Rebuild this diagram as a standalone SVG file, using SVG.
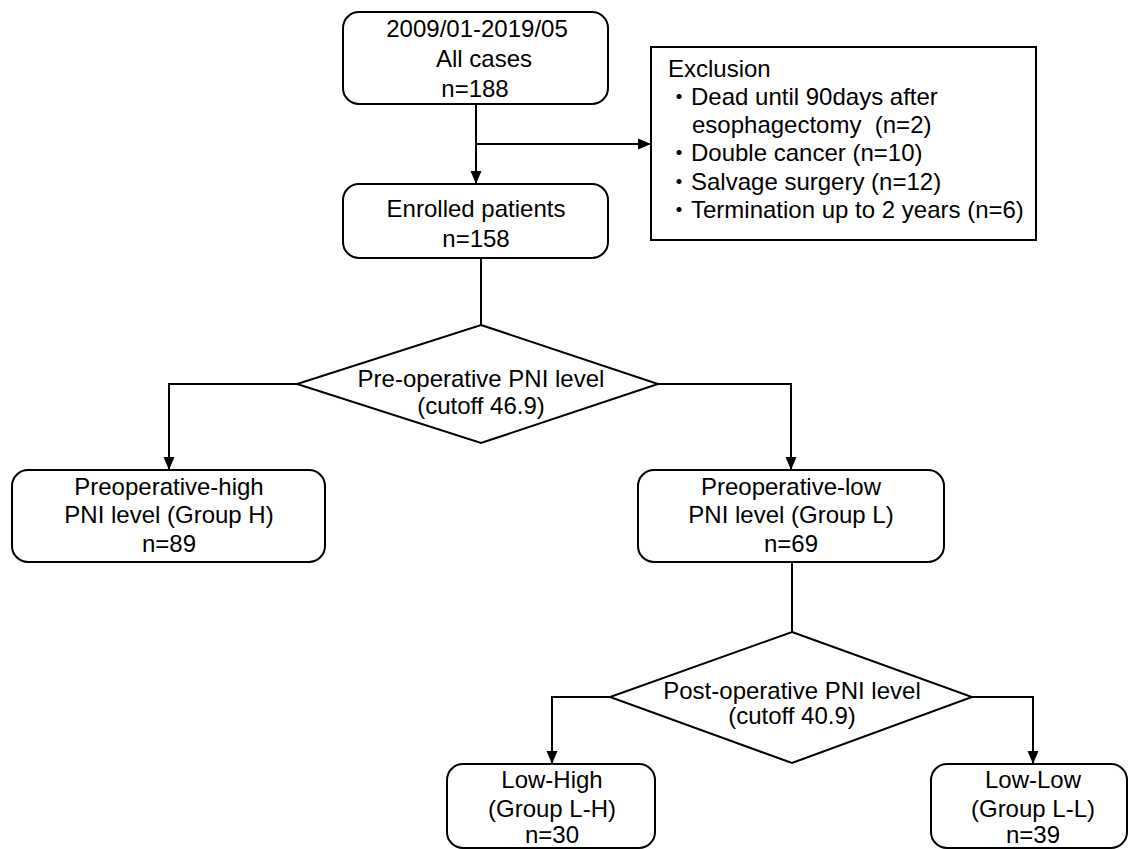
<svg xmlns="http://www.w3.org/2000/svg" width="1131" height="849" viewBox="0 0 1131 849">
<defs>
<marker id="arr" markerUnits="userSpaceOnUse" markerWidth="13" markerHeight="13" refX="13" refY="6.5" orient="auto">
<path d="M0,1 L13,6.5 L0,12 Z" fill="#000"/>
</marker>
<style>
.box{fill:#fff;stroke:#000;stroke-width:2}
.t{font-family:"Liberation Sans","Noto Sans CJK JP",Arial,sans-serif;font-size:24px;fill:#000}
.c{text-anchor:middle}
.ln{fill:none;stroke:#000;stroke-width:2}
</style>
</defs>
<rect width="1131" height="849" fill="#fff"/>
<g id="connectors">
<path class="ln" d="M476,104 V184" marker-end="url(#arr)"/>
<path class="ln" d="M476,144 H651" marker-end="url(#arr)"/>
<path class="ln" d="M481,258 V325"/>
<path class="ln" d="M297,384 H169 V470" marker-end="url(#arr)"/>
<path class="ln" d="M658,384 H791 V470" marker-end="url(#arr)"/>
<path class="ln" d="M792,562 V632"/>
<path class="ln" d="M610,697 H552 V764" marker-end="url(#arr)"/>
<path class="ln" d="M972,697 H1033 V764" marker-end="url(#arr)"/>
</g>
<g id="all-cases">
<rect class="box" x="343" y="12" width="265" height="92" rx="16"/>
<text class="t c" x="477" y="37">2009/01-2019/05</text>
<text class="t c" x="484" y="67">All cases</text>
<text class="t c" x="475" y="97">n=188</text>
</g>
<g id="exclusion">
<rect class="box" x="651" y="47" width="385" height="193"/>
<text class="t" x="668" y="77">Exclusion</text>
<text class="t" x="667" y="105">・Dead until 90days after</text>
<text class="t" x="692" y="133" xml:space="preserve">esophagectomy  (n=2)</text>
<text class="t" x="667" y="161">・Double cancer (n=10)</text>
<text class="t" x="667" y="190">・Salvage surgery (n=12)</text>
<text class="t" x="667" y="218">・Termination up to 2 years (n=6)</text>
</g>
<g id="enrolled">
<rect class="box" x="343" y="184" width="265" height="74" rx="16"/>
<text class="t c" x="476" y="217">Enrolled patients</text>
<text class="t c" x="476" y="247">n=158</text>
</g>
<g id="pre-diamond">
<polygon class="box" points="481,325 658,384 481,443 297,384"/>
<text class="t c" x="481" y="387">Pre-operative PNI level</text>
<text class="t c" x="481" y="414">(cutoff 46.9)</text>
</g>
<g id="group-h">
<rect class="box" x="12" y="470" width="313" height="92" rx="16"/>
<text class="t c" x="169" y="495">Preoperative-high</text>
<text class="t c" x="169" y="523">PNI level (Group H)</text>
<text class="t c" x="169" y="552">n=89</text>
</g>
<g id="group-l">
<rect class="box" x="638" y="470" width="306" height="92" rx="16"/>
<text class="t c" x="791" y="495">Preoperative-low</text>
<text class="t c" x="791" y="523">PNI level (Group L)</text>
<text class="t c" x="791" y="552">n=69</text>
</g>
<g id="post-diamond">
<polygon class="box" points="792,632 972,697 792,763 610,697"/>
<text class="t c" x="792" y="699">Post-operative PNI level</text>
<text class="t c" x="792" y="724">(cutoff 40.9)</text>
</g>
<g id="group-lh">
<rect class="box" x="447" y="764" width="208" height="84" rx="16"/>
<text class="t c" x="552" y="788">Low-High</text>
<text class="t c" x="552" y="817">(Group L-H)</text>
<text class="t c" x="552" y="843">n=30</text>
</g>
<g id="group-ll">
<rect class="box" x="931" y="764" width="196" height="84" rx="16"/>
<text class="t c" x="1033" y="788">Low-Low</text>
<text class="t c" x="1033" y="817">(Group L-L)</text>
<text class="t c" x="1033" y="843">n=39</text>
</g>
</svg>
